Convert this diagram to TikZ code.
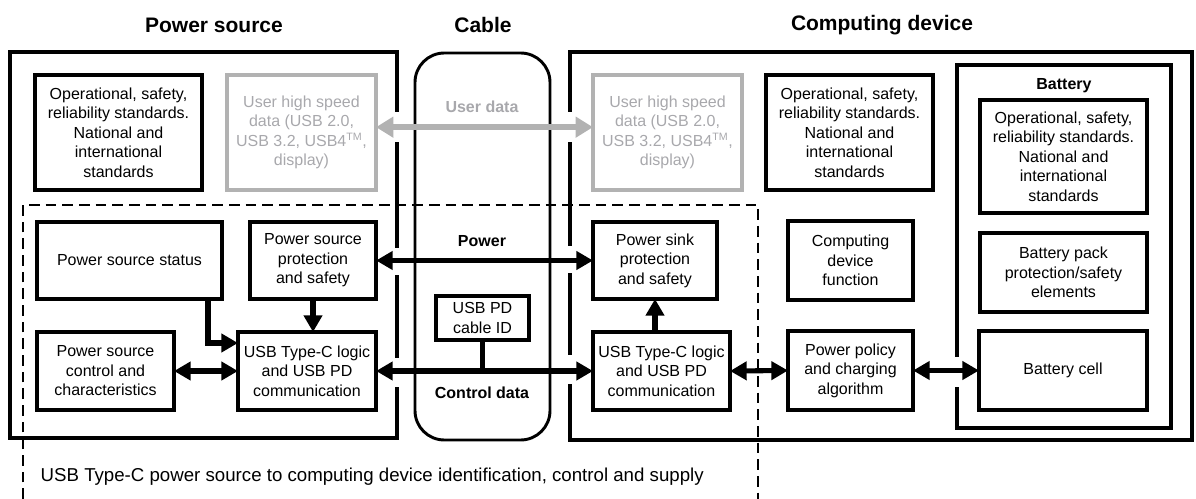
\documentclass[tikz,border=0pt]{standalone}
\usepackage{fontspec}
\setmainfont{Liberation Sans}
\usetikzlibrary{arrows.meta,calc}
\definecolor{lgray}{RGB}{178,178,178}
\definecolor{tgray}{RGB}{168,168,172}
\tikzset{
  bx/.style={draw=black, line width=2.5pt, inner sep=1pt, outer sep=0pt, align=center,
    font=\fontsize{12}{14.6}\selectfont},
  gbx/.style={bx, draw=lgray, text=tgray},
  outerbox/.style={draw=black, line width=3.3pt},
  cablebox/.style={draw=black, line width=2.2pt, rounded corners=22pt},
  dashbox/.style={draw=black, line width=2.1pt, dash pattern=on 8pt off 4.5pt},
  gapfill/.style={fill=white, draw=none},
  arr/.style={line width=3.8pt, -{Triangle[length=12.5pt,width=13.5pt]}},
  darr/.style={line width=3.8pt, {Triangle[length=12.5pt,width=13.5pt]}-{Triangle[length=12.5pt,width=13.5pt]}},
  plain/.style={line width=3.8pt},
  garr/.style={draw=lgray, line width=4.5pt, {Triangle[length=13pt,width=15pt]}-{Triangle[length=13pt,width=15pt]}},
  title/.style={font=\fontsize{15.75}{18}\selectfont\bfseries},
  lbl/.style={font=\fontsize{12}{14}\selectfont\bfseries},
}
\newcommand\bxat[7]{\node[#2, minimum width={(#5-#3)*0.75pt}, minimum height={(#6-#4)*0.75pt}] (#1) at ({(#3+#5)/2},{(#4+#6)/2}) {#7};}
\begin{document}
\begin{tikzpicture}[x=0.75pt,y=-0.75pt]
\useasboundingbox (0,0) rectangle (1196,499);
% outer frames
\draw[outerbox] (10,52) rectangle (397,438);
\draw[outerbox] (570,52) rectangle (1192,440);
\draw[outerbox] (957,65) rectangle (1171,428);
\draw[cablebox] (415,53) rectangle (550,440);
\draw[dashbox] (23,499) -- (23,205) -- (758,205) -- (758,499);
% gaps in frames where connectors pass
\fill[gapfill] (392,112) rectangle (402,142);
\fill[gapfill] (392,248) rectangle (402,275);
\fill[gapfill] (392,358) rectangle (402,387);
\fill[gapfill] (565,112) rectangle (575,142);
\fill[gapfill] (565,246) rectangle (575,273);
\fill[gapfill] (565,355) rectangle (575,384);
\fill[gapfill] (952,357) rectangle (962,387);
% titles
\node[title] (tps) at (214,25) {Power source};
\node[title] (tcb) at (483,25) {Cable};
\node[title] (tcd) at (882,25) {Computing device};
\node[lbl] (tbat) at (1064,86) {Battery};
% boxes
\bxat{stdL}{bx}{35}{75}{202}{190}{Operational, safety,\\reliability standards.\\National and\\international\\standards}
\bxat{hsL}{gbx}{227}{75}{376}{190}{User high speed\\data (USB 2.0,\\USB 3.2, USB4\textsuperscript{TM},\\display)}
\bxat{stat}{bx}{37}{222}{222}{299}{Power source status}
\bxat{protL}{bx}{250}{222}{376}{299}{Power source\\protection\\and safety}
\bxat{ctrl}{bx}{37}{332}{174}{410}{Power source\\control and\\characteristics}
\bxat{usbL}{bx}{238}{332}{376}{410}{USB Type-C logic\\and USB PD\\communication}
\bxat{cid}{bx}{436}{296}{529}{340}{USB PD\\cable ID}
\bxat{hsR}{gbx}{593}{75}{742}{190}{User high speed\\data (USB 2.0,\\USB 3.2, USB4\textsuperscript{TM},\\display)}
\bxat{protR}{bx}{593}{222}{717}{299}{Power sink\\protection\\and safety}
\bxat{usbR}{bx}{593}{332}{730}{410}{USB Type-C logic\\and USB PD\\communication}
\bxat{stdC}{bx}{766}{75}{933}{190}{Operational, safety,\\reliability standards.\\National and\\international\\standards}
\bxat{stdB}{bx}{980}{100}{1147}{213}{Operational, safety,\\reliability standards.\\National and\\international\\standards}
\bxat{func}{bx}{788}{221}{913}{300}{Computing\\device\\function}
\bxat{pack}{bx}{980}{233}{1147}{312}{Battery pack\\protection/safety\\elements}
\bxat{policy}{bx}{788}{331}{913}{410}{Power policy\\and charging\\algorithm}
\bxat{cell}{bx}{979}{331}{1147}{410}{Battery cell}
% cable labels
\node[lbl, text=tgray] (lud) at (482,107) {User data};
\node[lbl] (lpw) at (482,241) {Power};
\node[lbl] (lcd) at (482,393) {Control data};
% connectors
\draw[garr] ([yshift=4pt]hsL.east) -- ([yshift=4pt]hsR.west);
\draw[darr] (protL.east) -- (protR.west);
\draw[plain] (cid.south) -- (cid.south |- usbL.east);
\draw[darr] (usbL.east) -- (usbR.west);
\coordinate (sx) at (208,0);
\draw[arr] (sx |- stat.south) |- ([yshift=21pt]usbL.west);
\draw[arr] (protL.south) -- (protL.south |- usbL.north);
\draw[darr] (ctrl.east) -- (usbL.west);
\draw[arr] (protR.south |- usbR.north) -- (protR.south);
\draw[darr] (usbR.east) -- (policy.west);
\draw[darr] (policy.east) -- (cell.west);
% bottom caption
\node[anchor=west, font=\fontsize{14}{16}\selectfont] (cap) at (36,477) {USB Type-C power source to computing device identification, control and supply};
\end{tikzpicture}
\end{document}
